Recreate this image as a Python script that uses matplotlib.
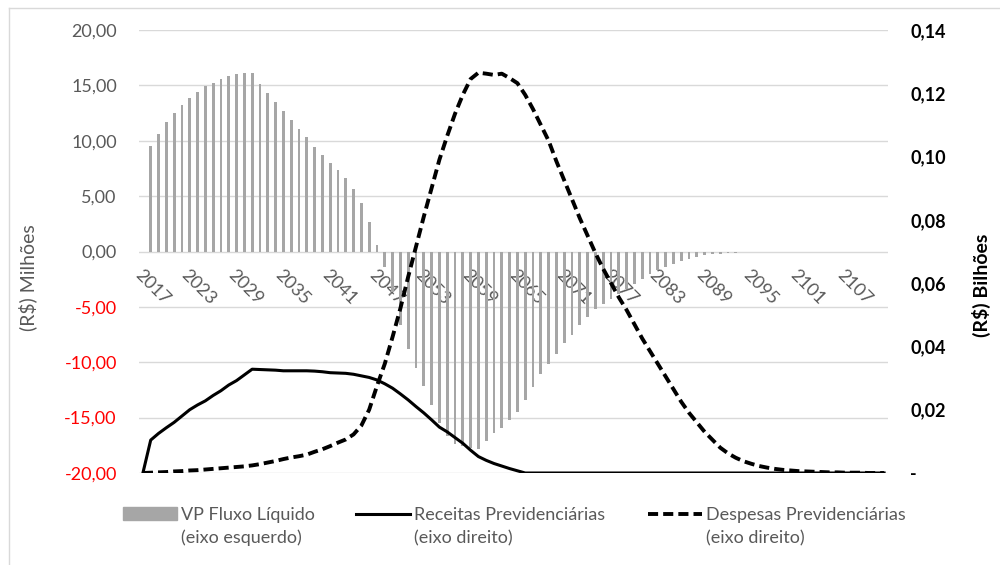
import matplotlib
matplotlib.use("Agg")
import matplotlib.pyplot as plt
from matplotlib.lines import Line2D
from matplotlib.patches import Patch

plt.rcParams['font.family'] = ['Lato', 'DejaVu Sans']

# dados
anos = list(range(2017, 2113))

# VP Fluxo Liquido, R$ milhoes (eixo esquerdo)
fluxo = [0.0,
         9.54, 10.65, 11.67, 12.48, 13.23, 13.89, 14.43, 14.94, 15.24, 15.54,
         15.81, 15.99, 16.11, 16.11, 15.15, 14.35, 13.5, 12.66, 11.91, 11.1,
         10.35, 9.42, 8.7, 7.98, 7.32, 6.6, 5.64, 4.35, 2.7, 0.57,
         -1.42, -3.7, -6.65, -8.8, -10.5, -12.1, -13.9, -15.5, -16.7, -17.4,
         -17.6, -17.7, -17.8, -17.1, -16.4, -15.9, -15.2, -14.5, -13.4, -12.2,
         -11.1, -10.2, -9.3, -8.3, -7.5, -6.65, -5.9, -5.2, -4.7, -4.3,
         -3.8, -3.4, -2.9, -2.5, -2.0, -1.7, -1.4, -1.1, -0.9, -0.66,
         -0.5, -0.36, -0.27, -0.2, -0.15, -0.12, -0.09,
         -0.07, -0.05, -0.04, -0.03, -0.02, -0.01,
         0, 0, 0, 0, 0, 0, 0, 0, 0, 0, 0, 0]

# Receitas Previdenciarias, R$ bilhoes (eixo direito)
receitas = [0.0, 0.0104, 0.0125, 0.0143, 0.0160, 0.0180, 0.0200, 0.0215, 0.0228, 0.0245,
            0.0260, 0.0278, 0.0292, 0.0310, 0.0328, 0.0327, 0.0326, 0.0325, 0.0323, 0.0323,
            0.0323, 0.0323, 0.0322, 0.0320, 0.0317, 0.0316, 0.0315, 0.0312, 0.0307, 0.0302,
            0.0294, 0.0282, 0.0268, 0.0250, 0.0231, 0.0210, 0.0190, 0.0168, 0.0145, 0.0130,
            0.0112, 0.0094, 0.0072, 0.0052, 0.0040, 0.0030, 0.0022, 0.0014, 0.0007] + [0.0] * 47

# Despesas Previdenciarias, R$ bilhoes (eixo direito)
despesas = [0.0, 0.0001, 0.0002, 0.0003, 0.0005, 0.0006, 0.0008, 0.0009, 0.0011, 0.0013,
            0.0015, 0.0017, 0.0019, 0.0021, 0.0024, 0.0028, 0.0033, 0.0038, 0.0044, 0.0049,
            0.0053, 0.0058, 0.0067, 0.0075, 0.0085, 0.0096, 0.0106, 0.0122, 0.0150, 0.0200,
            0.0275, 0.0345, 0.0430, 0.0520, 0.0620, 0.0715, 0.0810, 0.0900, 0.0990, 0.1065,
            0.1135, 0.1195, 0.1245, 0.1265, 0.1262, 0.1258, 0.1262, 0.1248, 0.1232, 0.1195,
            0.1150, 0.1100, 0.1050, 0.0985, 0.0925, 0.0865, 0.0805, 0.0750, 0.0695, 0.0645,
            0.0600, 0.0555, 0.0515, 0.0470, 0.0425, 0.0385, 0.0345, 0.0305, 0.0265, 0.0225,
            0.0190, 0.0160, 0.0130, 0.0105, 0.0080, 0.0062, 0.0048, 0.0037, 0.0029, 0.0022,
            0.0017, 0.0013, 0.0010, 0.0008, 0.0006, 0.0005, 0.0004, 0.0003, 0.0002, 0.0002,
            0.0001, 0.0001, 0.0001, 0.0, 0.0, 0.0]

esq_ticks = [-20, -15, -10, -5, 0, 5, 10, 15, 20]
dir_ticks = [0, 0.02, 0.04, 0.06, 0.08, 0.10, 0.12, 0.14]

cinza = '#595959'
fs = 13
W, H = 1000, 565

fig = plt.figure(figsize=(10, 5.65), dpi=100)
ax = fig.add_axes([139 / W, 1 - 473 / H, 749 / W, 443 / H])
ax2 = ax.twinx()

x = list(range(len(anos)))
ax.bar(x, fluxo, width=0.36, color='#a6a6a6', zorder=2)
ax2.plot(x, receitas, color='black', lw=2.2, solid_joinstyle='round')
ax2.plot(x, despesas, color='black', lw=2.8, dashes=(2.6, 1.3))

ax.set_xlim(-0.5, len(anos) - 0.5)
ax.set_ylim(-20, 20)
ax2.set_ylim(0, 0.14)

ax.set_axisbelow(True)
ax.grid(axis='y', color='#d9d9d9', lw=1)
for a in (ax, ax2):
    for s in a.spines.values():
        s.set_visible(False)

# eixo de categorias cruza em zero
ax.spines['bottom'].set_position(('data', 0))
ax.set_xticks(x[::6])
ax.set_xticklabels([str(anos[i]) for i in x[::6]], rotation=-45, ha='left', va='top',
                   rotation_mode='anchor', color=cinza, fontsize=fs)
ax.tick_params(axis='x', length=0, pad=11)

ax.set_yticks(esq_ticks)
ax.set_yticklabels([f'{v:.2f}'.replace('.', ',') for v in esq_ticks], fontsize=fs)
for v, lab in zip(esq_ticks, ax.get_yticklabels()):
    lab.set_color('red' if v < 0 else cinza)
ax.tick_params(axis='y', length=0, pad=16)

ax2.set_yticks(dir_ticks)
ax2.set_yticklabels(['-' if v == 0 else f'{v:.2f}'.replace('.', ',') for v in dir_ticks],
                    fontsize=fs, fontweight='bold', color='black')
ax2.tick_params(axis='y', length=0, pad=16)

fig.text(28 / W, 1 - 278 / H, '(R$) Milhões', rotation=90, ha='center', va='center',
         color=cinza, fontsize=fs + 1)
fig.text(981 / W, 1 - 285 / H, '(R$) Bilhões', rotation=90, ha='center', va='center',
         color='black', fontsize=fs + 1, fontweight='bold')

# legenda
itens = [
    (Patch(color='#a6a6a6'), 'VP Fluxo Líquido', '(eixo esquerdo)', 123),
    (Line2D([], [], color='black', lw=2.2), 'Receitas Previdenciárias', '(eixo direito)', 356),
    (Line2D([], [], color='black', lw=2.8, dashes=(2.6, 1.3)), 'Despesas Previdenciárias', '(eixo direito)', 648),
]
legs = []
for h, l1, l2, x0 in itens:
    leg = fig.legend([h], [l1], loc='center left', bbox_to_anchor=(x0 / W, 1 - 515 / H),
                     frameon=False, fontsize=fs, labelcolor=cinza, handlelength=3.0,
                     handletextpad=0.2, borderpad=0, borderaxespad=0)
    legs.append((leg, l2))

fig.canvas.draw()
for leg, l2 in legs:
    bb = leg.get_texts()[0].get_window_extent()
    fig.text(bb.x0 / W, 1 - 538 / H, l2, ha='left', va='center', color=cinza, fontsize=fs)

# borda da area do grafico
fig.add_artist(Line2D([9 / W, 9 / W], [0, 1 - 8 / H], color='#d9d9d9', lw=1, transform=fig.transFigure))
fig.add_artist(Line2D([9 / W, 1], [1 - 8 / H, 1 - 8 / H], color='#d9d9d9', lw=1, transform=fig.transFigure))

fig.savefig('out.png', dpi=100)
